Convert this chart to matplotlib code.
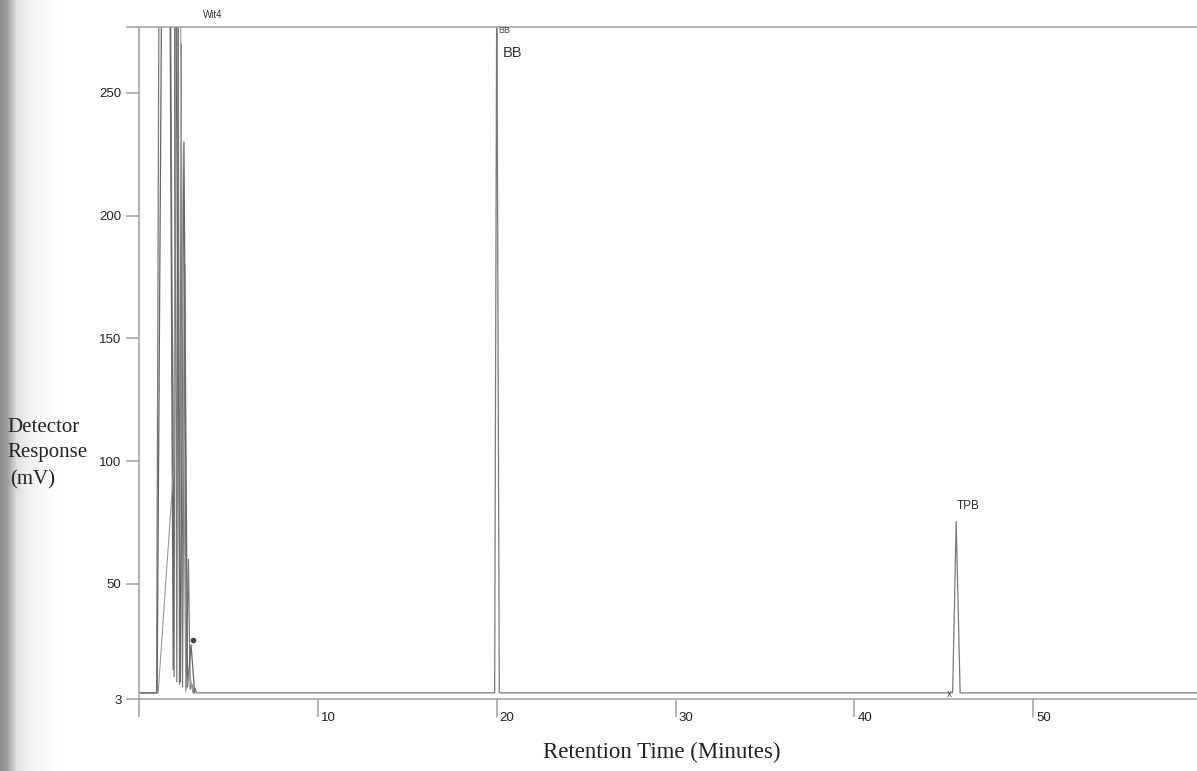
import numpy as np
import matplotlib
matplotlib.use("Agg")
import matplotlib.pyplot as plt
from matplotlib.transforms import ScaledTranslation

# main detector trace: solvent front, BB and TPB peaks (minutes, mV)
trace_time = [0.0, 0.97, 1.10, 1.75, 1.95, 2.00, 2.10, 2.18, 2.25, 2.35, 2.42, 2.55, 2.62,
              2.75, 2.85, 2.95, 3.05, 3.12, 3.20, 19.88, 20.00, 20.14, 45.50, 45.70, 45.92, 60.0]
trace_mv = [5.5, 5.5, 290, 290, 12, 290, 10, 290, 9, 270, 8, 180, 8,
            60, 7, 9, 5.5, 7.5, 5.5, 5.5, 300, 5.5, 5.5, 75.3, 5.5, 5.5]

# overlaid runs through the solvent front
overlay1_time = [0.0, 1.00, 1.25, 1.72, 1.90, 2.05, 2.30, 2.50, 2.70, 2.90, 3.10]
overlay1_mv = [5.5, 5.5, 290, 290, 15, 290, 10, 230, 8, 25, 5.5]
overlay2_time = [1.00, 1.06, 1.95, 2.05, 2.30, 2.60, 2.80, 3.00]
overlay2_mv = [5.5, 5.5, 100, 290, 290, 6, 14, 5.5]

y_ticks = [3, 50, 100, 150, 200, 250]
x_ticks = [0, 10, 20, 30, 40, 50]
x_labels = ['', '10', '20', '30', '40', '50']

fig = plt.figure(figsize=(11.97, 7.71), dpi=100)

# darker strip along the left edge of the page
strip = fig.add_axes([0, 0, 60 / 1197, 1], zorder=-1)
px = np.arange(60)
shade = np.interp(px, [0, 7, 16, 30, 59], [0.55, 0.62, 0.88, 0.95, 1.0])
strip.imshow(np.tile(shade, (2, 1)), cmap='gray', vmin=0, vmax=1, aspect='auto')
strip.axis('off')

ax = fig.add_axes([139.25 / 1197, 1 - 699 / 771, 1 - 139.25 / 1197, 672 / 771])
ax.set_xlim(0, 59.17)
ax.set_ylim(3, 276.9)

ax.plot(trace_time, trace_mv, color='#7a7a7a', lw=0.9)
ax.plot(overlay1_time, overlay1_mv, color='#666666', lw=0.9)
ax.plot(overlay2_time, overlay2_mv, color='#999999', lw=0.8)
ax.plot([3.0], [27.0], 'o', color='#444444', ms=3)

for s in ['left', 'bottom', 'top']:
    ax.spines[s].set_color('#a0a0a0')
    ax.spines[s].set_linewidth(1.1)
ax.spines['right'].set_visible(False)

ax.set_yticks(y_ticks + [276.9])
ax.set_yticklabels([str(v) for v in y_ticks] + [''])
ax.set_xticks(x_ticks)
ax.set_xticklabels(x_labels)
ax.tick_params(axis='y', length=9.4, width=1.1, color='#a0a0a0', pad=3.5,
               labelsize=9.5, labelcolor='#222222')
ax.tick_params(axis='x', length=13, width=1.1, color='#a0a0a0', pad=-3.6,
               labelsize=9.5, labelcolor='#222222')
for lab in ax.get_xticklabels():
    lab.set_ha('left')
    lab.set_transform(lab.get_transform() + ScaledTranslation(3 / 100, 0, fig.dpi_scale_trans))
for lab in ax.get_xticklabels() + ax.get_yticklabels():
    lab.set_family('Liberation Sans')

# peak labels
ax.text(4.13, 281.8, 'Wit4', fontsize=7, family='Liberation Sans', color='#333333',
        ha='center', va='center', clip_on=False)
ax.text(20.4, 275.5, 'BB', fontsize=6.5, family='Liberation Sans', color='#444444',
        ha='center', va='center')
ax.text(20.9, 266.3, 'BB', fontsize=10.5, family='Liberation Sans', color='#333333',
        ha='center', va='center')
ax.text(46.36, 81.7, 'TPB', fontsize=8.5, family='Liberation Sans', color='#333333',
        ha='center', va='center')
ax.text(45.3, 5.0, 'x', fontsize=7, family='Liberation Sans', color='#444444',
        ha='center', va='center')

serif = 'Liberation Serif'
fig.text(662 / 1197, 1 - 752 / 771, 'Retention Time (Minutes)', fontsize=16.5,
         family=serif, color='#222222', ha='center', va='center')
fig.text(7 / 1197, 1 - 428 / 771, 'Detector', fontsize=15, family=serif,
         color='#222222', ha='left', va='center')
fig.text(7 / 1197, 1 - 453 / 771, 'Response', fontsize=15, family=serif,
         color='#222222', ha='left', va='center')
fig.text(10 / 1197, 1 - 480 / 771, '(mV)', fontsize=15, family=serif,
         color='#222222', ha='left', va='center')

fig.savefig('out.png', dpi=100)
